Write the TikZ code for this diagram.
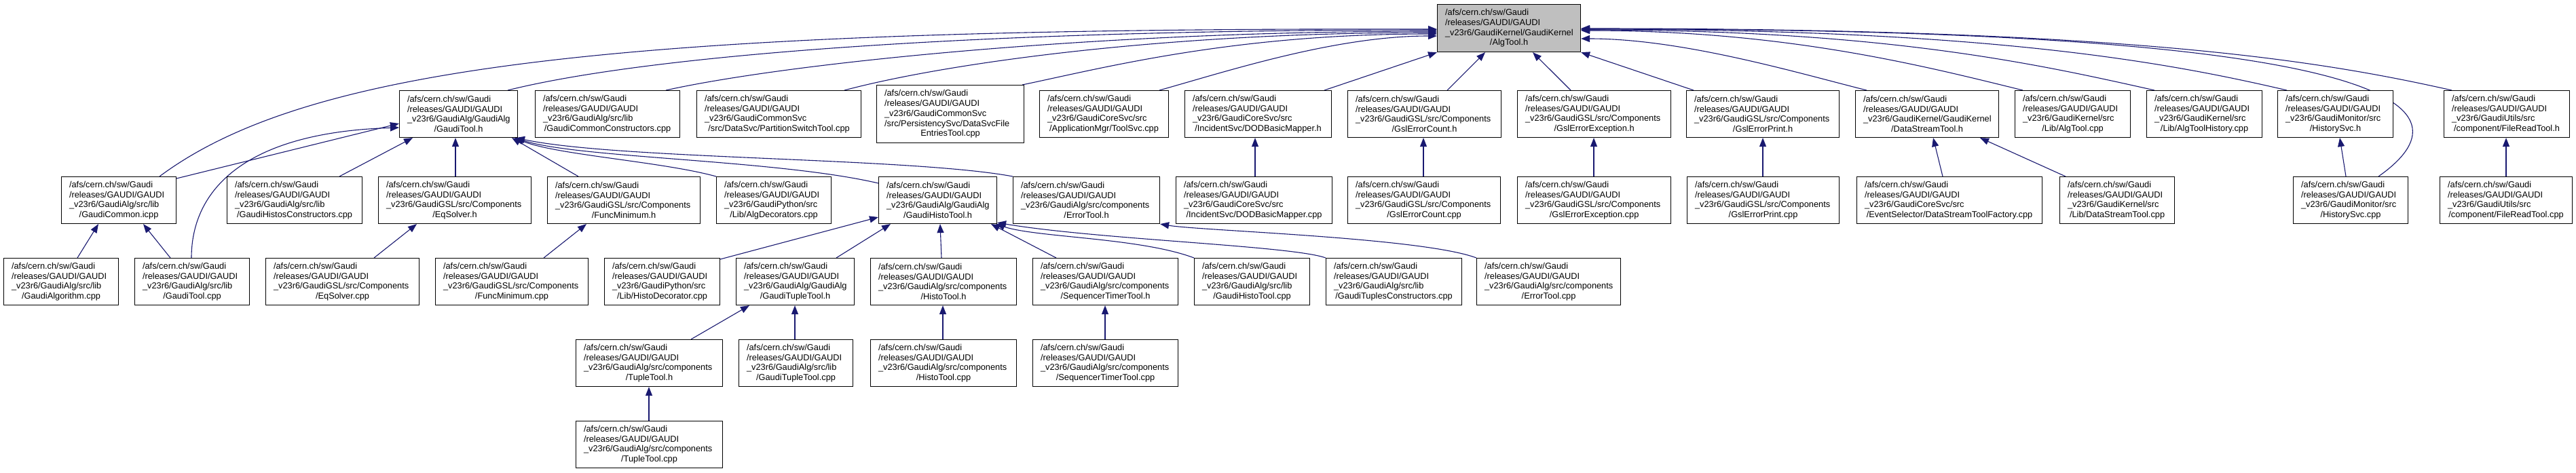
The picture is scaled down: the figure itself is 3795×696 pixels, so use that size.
\documentclass[tikz,border=0pt]{standalone}
\usepackage{fontspec}
\setmainfont{Liberation Sans}
\usetikzlibrary{arrows.meta,calc,backgrounds}
\definecolor{edgecol}{HTML}{191970}
\definecolor{rootfill}{HTML}{BFBFBF}
\newcommand\cl[1]{\makebox[\linewidth][c]{#1}}
\newcommand\pre{/afs/cern.ch/sw/Gaudi\\/releases/GAUDI/GAUDI\\}
\newcommand\fn[7][]{%
  \pgfmathsetmacro\fnW{#5-#3}\pgfmathsetmacro\fnH{#6-#4}\pgfmathsetmacro\fnT{#5-#3-23}%
  \node[fbox,minimum width=\fnW pt,minimum height=\fnH pt,text width=\fnT pt,anchor=north west,#1] (#2) at (#3,#4) {#7};}
\tikzset{
  fbox/.style={draw=black,fill=white,line width=1.1pt,inner xsep=0pt,inner ysep=0pt,align=left,
    font=\fontsize{12.8}{14.7}\selectfont},
  edg/.style={draw=edgecol,line width=1.1pt,-{Triangle[length=13pt,width=10pt]}}
}
\begin{document}
\begin{tikzpicture}[x=1pt,y=-1pt]
\useasboundingbox (0,0) rectangle (3795,696);
% root
\fn[fill=rootfill]{root}{2117}{6}{2328}{76}{\pre\_v23r6/GaudiKernel/GaudiKernel\\\cl{/AlgTool.h}}
% row 2
\fn{gtoolh}{588}{133}{762}{202}{\pre\_v23r6/GaudiAlg/GaudiAlg\\\cl{/GaudiTool.h}}
\fn{gccons}{788}{133}{1001}{202}{\pre\_v23r6/GaudiAlg/src/lib\\\cl{/GaudiCommonConstructors.cpp}}
\fn{pswitch}{1026}{133}{1268}{202}{\pre\_v23r6/GaudiCommonSvc\\\cl{/src/DataSvc/PartitionSwitchTool.cpp}}
\fn{dsvcfe}{1291}{125}{1508}{210}{\pre\_v23r6/GaudiCommonSvc\\/src/PersistencySvc/DataSvcFile\\\cl{EntriesTool.cpp}}
\fn{toolsvc}{1531}{133}{1721}{202}{\pre\_v23r6/GaudiCoreSvc/src\\\cl{/ApplicationMgr/ToolSvc.cpp}}
\fn{dodh}{1745}{133}{1961}{202}{\pre\_v23r6/GaudiCoreSvc/src\\\cl{/IncidentSvc/DODBasicMapper.h}}
\fn{gecnth}{1985}{133}{2211}{202}{\pre\_v23r6/GaudiGSL/src/Components\\\cl{/GslErrorCount.h}}
\fn{gexch}{2235}{133}{2461}{202}{\pre\_v23r6/GaudiGSL/src/Components\\\cl{/GslErrorException.h}}
\fn{gprth}{2484}{133}{2709}{202}{\pre\_v23r6/GaudiGSL/src/Components\\\cl{/GslErrorPrint.h}}
\fn{dsth}{2733}{133}{2944}{202}{\pre\_v23r6/GaudiKernel/GaudiKernel\\\cl{/DataStreamTool.h}}
\fn{algtoolcpp}{2968}{133}{3138}{202}{\pre\_v23r6/GaudiKernel/src\\\cl{/Lib/AlgTool.cpp}}
\fn{athist}{3162}{133}{3332}{202}{\pre\_v23r6/GaudiKernel/src\\\cl{/Lib/AlgToolHistory.cpp}}
\fn{histh}{3355}{133}{3525}{202}{\pre\_v23r6/GaudiMonitor/src\\\cl{/HistorySvc.h}}
\fn{frth}{3600}{133}{3785}{202}{\pre\_v23r6/GaudiUtils/src\\\cl{/component/FileReadTool.h}}
% row 3
\fn{gcicpp}{90}{260}{259}{329}{\pre\_v23r6/GaudiAlg/src/lib\\\cl{/GaudiCommon.icpp}}
\fn{ghcons}{334}{260}{533}{329}{\pre\_v23r6/GaudiAlg/src/lib\\\cl{/GaudiHistosConstructors.cpp}}
\fn{eqh}{557}{260}{782}{329}{\pre\_v23r6/GaudiGSL/src/Components\\\cl{/EqSolver.h}}
\fn{fmh}{806}{260}{1031}{329}{\pre\_v23r6/GaudiGSL/src/Components\\\cl{/FuncMinimum.h}}
\fn{algdec}{1055}{260}{1224}{329}{\pre\_v23r6/GaudiPython/src\\\cl{/Lib/AlgDecorators.cpp}}
\fn{ghth}{1294}{260}{1468}{329}{\pre\_v23r6/GaudiAlg/GaudiAlg\\\cl{/GaudiHistoTool.h}}
\fn{erth}{1492}{260}{1708}{329}{\pre\_v23r6/GaudiAlg/src/components\\\cl{/ErrorTool.h}}
\fn{dodcpp}{1732}{260}{1962}{329}{\pre\_v23r6/GaudiCoreSvc/src\\\cl{/IncidentSvc/DODBasicMapper.cpp}}
\fn{gecntc}{1985}{260}{2210}{329}{\pre\_v23r6/GaudiGSL/src/Components\\\cl{/GslErrorCount.cpp}}
\fn{gexcc}{2235}{260}{2461}{329}{\pre\_v23r6/GaudiGSL/src/Components\\\cl{/GslErrorException.cpp}}
\fn{gprtc}{2485}{260}{2709}{329}{\pre\_v23r6/GaudiGSL/src/Components\\\cl{/GslErrorPrint.cpp}}
\fn{dstfac}{2735}{260}{3008}{329}{\pre\_v23r6/GaudiCoreSvc/src\\\cl{/EventSelector/DataStreamToolFactory.cpp}}
\fn{dstc}{3034}{260}{3203}{329}{\pre\_v23r6/GaudiKernel/src\\\cl{/Lib/DataStreamTool.cpp}}
\fn{histc}{3378}{260}{3547}{329}{\pre\_v23r6/GaudiMonitor/src\\\cl{/HistorySvc.cpp}}
\fn{frtc}{3594}{260}{3789}{329}{\pre\_v23r6/GaudiUtils/src\\\cl{/component/FileReadTool.cpp}}
% row 4
\fn{galgc}{5}{380}{174}{449}{\pre\_v23r6/GaudiAlg/src/lib\\\cl{/GaudiAlgorithm.cpp}}
\fn{gtoolc}{198}{380}{367}{449}{\pre\_v23r6/GaudiAlg/src/lib\\\cl{/GaudiTool.cpp}}
\fn{eqc}{391}{380}{617}{449}{\pre\_v23r6/GaudiGSL/src/Components\\\cl{/EqSolver.cpp}}
\fn{fmc}{641}{380}{866}{449}{\pre\_v23r6/GaudiGSL/src/Components\\\cl{/FuncMinimum.cpp}}
\fn{hdec}{890}{380}{1060}{449}{\pre\_v23r6/GaudiPython/src\\\cl{/Lib/HistoDecorator.cpp}}
\fn{gtth}{1084}{380}{1258}{449}{\pre\_v23r6/GaudiAlg/GaudiAlg\\\cl{/GaudiTupleTool.h}}
\fn{htoolh}{1282}{380}{1497}{449}{\pre\_v23r6/GaudiAlg/src/components\\\cl{/HistoTool.h}}
\fn{stth}{1521}{380}{1735}{449}{\pre\_v23r6/GaudiAlg/src/components\\\cl{/SequencerTimerTool.h}}
\fn{ghtc}{1759}{380}{1929}{449}{\pre\_v23r6/GaudiAlg/src/lib\\\cl{/GaudiHistoTool.cpp}}
\fn{gtcons}{1953}{380}{2153}{449}{\pre\_v23r6/GaudiAlg/src/lib\\\cl{/GaudiTuplesConstructors.cpp}}
\fn{ertc}{2175}{380}{2387}{449}{\pre\_v23r6/GaudiAlg/src/components\\\cl{/ErrorTool.cpp}}
% row 5
\fn{ttoolh}{848}{500}{1064}{569}{\pre\_v23r6/GaudiAlg/src/components\\\cl{/TupleTool.h}}
\fn{gttc}{1088}{500}{1256}{569}{\pre\_v23r6/GaudiAlg/src/lib\\\cl{/GaudiTupleTool.cpp}}
\fn{htoolc}{1282}{500}{1497}{569}{\pre\_v23r6/GaudiAlg/src/components\\\cl{/HistoTool.cpp}}
\fn{sttc}{1521}{500}{1735}{569}{\pre\_v23r6/GaudiAlg/src/components\\\cl{/SequencerTimerTool.cpp}}
% row 6
\fn{ttoolc}{848}{620}{1064}{689}{\pre\_v23r6/GaudiAlg/src/components\\\cl{/TupleTool.cpp}}

\begin{pgfonlayer}{background}
% edges into root
\draw[edg] ($(gcicpp.north west)+(145,0)$) .. controls +(215,-160) and +(-1217,-3) .. ($(root.north west)+(0,37)$);
\draw[edg] ($(gtoolh.north west)+(160,0)$) .. controls +(200,-50) and +(-700,0) .. ($(root.north west)+(0,38)$);
\draw[edg] ($(gccons.north west)+(193,0)$) .. controls +(180,-40) and +(-500,0) .. ($(root.north west)+(0,40)$);
\draw[edg] ($(pswitch.north west)+(218,0)$) .. controls +(150,-40) and +(-400,0) .. ($(root.north west)+(0,42)$);
\draw[edg] ($(dsvcfe.north west)+(215,0)$) .. controls +(120,-25) and +(-300,0) .. ($(root.north west)+(0,44)$);
\draw[edg] ($(toolsvc.north west)+(177,0)$) .. controls +(100,-28) and +(-150,0) .. ($(root.north west)+(0,47)$);
\draw[edg] ($(dodh.north west)+(206,0)$) -- (root.south west);
\draw[edg] ($(gecnth.north west)+(147,0)$) -- ($(root.south west)+(71,0)$);
\draw[edg] ($(gexch.north west)+(79,0)$) -- ($(root.south west)+(141,0)$);
\draw[edg] ($(gprth.north west)+(11,0)$) -- (root.south east);
\draw[edg] ($(dsth.north west)+(17,0)$) .. controls +(-100,-25) and +(150,0) .. ($(root.north east)+(0,51)$);
\draw[edg] ($(algtoolcpp.north west)+(12,0)$) .. controls +(-150,-37) and +(300,0) .. ($(root.north east)+(0,39)$);
\draw[edg] ($(athist.north west)+(12,0)$) .. controls +(-170,-38) and +(450,0) .. ($(root.north east)+(0,38)$);
\draw[edg] ($(histh.north west)+(14,0)$) .. controls +(-180,-42) and +(600,0) .. ($(root.north east)+(0,37)$);
\draw[edg] ($(histc.north west)+(126,0)$) .. controls +(156,-110) and +(1172,-3) .. ($(root.north east)+(0,37)$);
\draw[edg] ($(frth.north west)+(12,0)$) .. controls +(-200,-45) and +(800,0) .. ($(root.north east)+(0,36)$);
% edges into GaudiTool.h
\draw[edg] ($(gcicpp.north east)+(0,3)$) -- ($(gtoolh.north west)+(0,49)$);
\draw[edg] ($(gtoolc.north west)+(84,0)$) .. controls +(0,-100) and +(-228,7) .. ($(gtoolh.north west)+(0,55)$);
\draw[edg] ($(ghcons.north west)+(166,0)$) -- ($(gtoolh.south west)+(20,0)$);
\draw[edg] ($(eqh.north west)+(114,0)$) -- ($(gtoolh.south west)+(83,0)$);
\draw[edg] ($(fmh.north west)+(46,0)$) -- ($(gtoolh.south west)+(166,0)$);
\draw[edg] (algdec.north west) .. controls +(-80,-22) and +(60,25) .. ($(gtoolh.south east)+(-5,0)$);
\draw[edg] ($(ghth.north west)+(0,10)$) .. controls +(-150,-35) and +(90,30) .. ($(gtoolh.south east)+(-4,0)$);
\draw[edg] (erth.north west) .. controls +(-150,-28) and +(150,32) .. ($(gtoolh.south east)+(-3,0)$);
% GaudiCommon.icpp
\draw[edg] ($(galgc.north west)+(109,0)$) -- ($(gcicpp.south west)+(55,0)$);
\draw[edg] ($(gtoolc.north west)+(53,0)$) -- ($(gcicpp.south west)+(121,0)$);
\draw[edg] ($(eqc.north west)+(160,0)$) -- ($(eqh.south west)+(57,0)$);
\draw[edg] ($(fmc.north west)+(160,0)$) -- ($(fmh.south west)+(58,0)$);
% GaudiHistoTool.h
\draw[edg] ($(hdec.north east)+(0,2)$) -- ($(ghth.north west)+(0,60)$);
\draw[edg] ($(gtth.north west)+(148,0)$) -- ($(ghth.south west)+(18,0)$);
\draw[edg] ($(htoolh.north west)+(105,0)$) -- ($(ghth.south west)+(91,0)$);
\draw[edg] ($(stth.north west)+(35,0)$) -- ($(ghth.south west)+(166,0)$);
\draw[edg] (ghtc.north west) .. controls +(-80,-30) and +(60,20) .. ($(ghth.south east)+(-2,0)$);
\draw[edg] (gtcons.north west) .. controls +(-50,-18) and +(150,25) .. ($(ghth.south east)+(0,-2)$);
\draw[edg] (ertc.north west) .. controls +(-80,-30) and +(60,10) .. (erth.south east);
% lower rows
\draw[edg] ($(ttoolh.north west)+(170,0)$) -- ($(gtth.south west)+(20,0)$);
\draw[edg] ($(gttc.north west)+(83,0)$) -- ($(gtth.south west)+(87,0)$);
\draw[edg] ($(htoolc.north west)+(107,0)$) -- ($(htoolh.south west)+(107,0)$);
\draw[edg] ($(sttc.north west)+(107,0)$) -- ($(stth.south west)+(107,0)$);
\draw[edg] ($(ttoolc.north west)+(108,0)$) -- ($(ttoolh.south west)+(108,0)$);
% right part
\draw[edg] ($(dodcpp.north west)+(117,0)$) -- ($(dodh.south west)+(104,0)$);
\draw[edg] ($(gecntc.north west)+(112,0)$) -- ($(gecnth.south west)+(112,0)$);
\draw[edg] ($(gexcc.north west)+(113,0)$) -- ($(gexch.south west)+(113,0)$);
\draw[edg] ($(gprtc.north west)+(112,0)$) -- ($(gprth.south west)+(113,0)$);
\draw[edg] ($(dstfac.north west)+(127,0)$) -- ($(dsth.south west)+(115,0)$);
\draw[edg] ($(dstc.north west)+(9,0)$) -- ($(dsth.south west)+(184,0)$);
\draw[edg] ($(histc.north west)+(78,0)$) -- ($(histh.south west)+(92,0)$);
\draw[edg] ($(frtc.north west)+(98,0)$) -- ($(frth.south west)+(92,0)$);
\end{pgfonlayer}
\end{tikzpicture}
\end{document}
